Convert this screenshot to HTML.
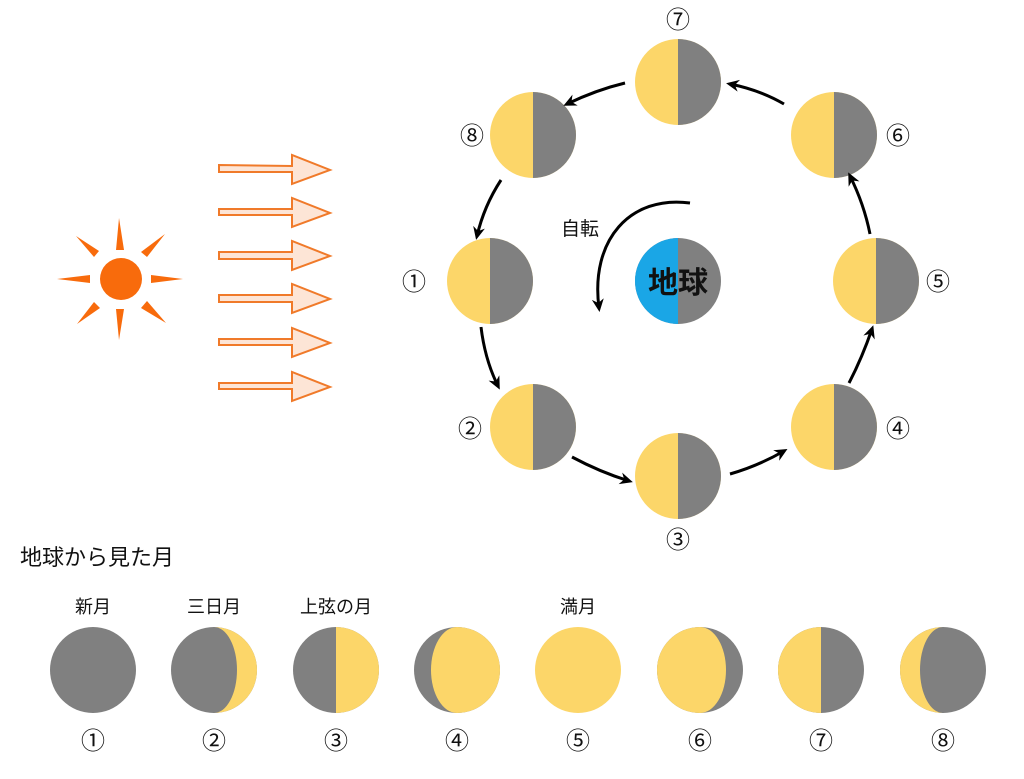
<!DOCTYPE html>
<html><head><meta charset="utf-8"><style>
html,body{margin:0;padding:0;background:#fff;}
svg{display:block}
text{font-family:"Liberation Sans","Noto Sans CJK JP",sans-serif;fill:#111}
</style></head><body>
<svg width="1024" height="779" viewBox="0 0 1024 779" xmlns="http://www.w3.org/2000/svg">
<defs>
<marker id="ah" markerWidth="14" markerHeight="14" refX="9" refY="7" orient="auto" markerUnits="userSpaceOnUse">
<path d="M0,1 L13,7 L0,13 L4,7 Z" fill="#000"/>
</marker>
</defs>
<g fill="#f86b0c">
<circle cx="121" cy="279" r="21"/>
<path d="M119,218 L116,250 L124,250 Z"/>
<path d="M119,340 L116,309 L124,309 Z"/>
<path d="M57,279 L90,275 L90,283 Z"/>
<path d="M183,279 L151,275 L151,283 Z"/>
<path d="M76,236 L99,251 L94,257 Z"/>
<path d="M165,234 L147,257 L141,252 Z"/>
<path d="M77,324 L94,302 L100,308 Z"/>
<path d="M166,323 L141,308 L147,301 Z"/>
</g>
<g fill="#fde5d6" stroke="#f07a2a" stroke-width="2">
<path d="M219,165 L292,166 L292,155 L330,170 L292,184 L292,172 L219,172 Z"/>
<path d="M219,209 L292,209 L292,198 L330,213 L292,227 L292,215 L219,215 Z"/>
<path d="M219,252 L292,252 L292,241 L330,256 L292,270 L292,259 L219,259 Z"/>
<path d="M219,295 L292,295 L292,284 L330,299 L292,313 L292,302 L219,302 Z"/>
<path d="M219,339 L292,339 L292,328 L330,343 L292,357 L292,345 L219,345 Z"/>
<path d="M219,383 L292,383 L292,372 L330,387 L292,401 L292,389 L219,389 Z"/>
</g>
<g fill="#fcd669">
<circle cx="678" cy="82" r="43"/><circle cx="533" cy="135" r="43"/><circle cx="834" cy="135" r="43"/>
<circle cx="490" cy="281" r="43"/><circle cx="876" cy="281" r="43"/><circle cx="533" cy="427" r="43"/>
<circle cx="834" cy="427" r="43"/><circle cx="678" cy="476" r="43"/>
</g>
<g fill="#808080">
<path d="M678,39 A43,43 0 0 1 678,125 Z"/><path d="M533,92 A43,43 0 0 1 533,178 Z"/><path d="M834,92 A43,43 0 0 1 834,178 Z"/>
<path d="M490,238 A43,43 0 0 1 490,324 Z"/><path d="M876,238 A43,43 0 0 1 876,324 Z"/><path d="M533,384 A43,43 0 0 1 533,470 Z"/>
<path d="M834,384 A43,43 0 0 1 834,470 Z"/><path d="M678,433 A43,43 0 0 1 678,519 Z"/>
</g>
<circle cx="678" cy="281" r="43" fill="#808080"/>
<path d="M678,238 A43,43 0 0 0 678,324 Z" fill="#1aa6e6"/>
<text x="678" y="293" font-size="30" font-weight="bold" text-anchor="middle">地球</text>
<text x="580" y="235" font-size="19" text-anchor="middle">自転</text>
<path d="M690,203 C630,195 590,240 599,308" fill="none" stroke="#000" stroke-width="3" marker-end="url(#ah)"/>
<g fill="none" stroke="#000" stroke-width="3" marker-end="url(#ah)">
<path d="M481,327 Q485,360 498,386"/>
<path d="M572,457 Q600,472 629,481"/>
<path d="M730,474 Q758,466 784,451"/>
<path d="M849,383 Q862,358 872,329"/>
<path d="M870,234 Q864,204 850,176"/>
<path d="M784,104 Q760,90 730,84"/>
<path d="M625,83 Q596,90 567,104"/>
<path d="M501,180 Q484,206 477,236"/>
</g>
<g font-size="24" text-anchor="middle">
<text x="678" y="28">⑦</text><text x="472" y="144">⑧</text><text x="898" y="144">⑥</text>
<text x="414" y="290">①</text><text x="938" y="290">⑤</text><text x="470" y="437">②</text>
<text x="898" y="437">④</text><text x="678" y="548">③</text>
</g>
<text x="20" y="565" font-size="22">地球から見た月</text>
<g font-size="18" text-anchor="middle">
<text x="93" y="613">新月</text><text x="214" y="613">三日月</text><text x="336" y="613">上弦の月</text><text x="578" y="613">満月</text>
</g>
<g fill="#808080">
<circle cx="93" cy="670" r="43"/><circle cx="214" cy="670" r="43"/><circle cx="336" cy="670" r="43"/><circle cx="457" cy="670" r="43"/>
<circle cx="700" cy="670" r="43"/><circle cx="821" cy="670" r="43"/><circle cx="943" cy="670" r="43"/>
</g>
<g fill="#fcd669">
<path d="M214,627 A43,43 0 0 1 214,713 A23,43 0 0 0 214,627 Z"/>
<path d="M336,627 A43,43 0 0 1 336,713 Z"/>
<path d="M457,627 A43,43 0 0 1 457,713 A26,43 0 0 1 457,627 Z"/>
<circle cx="578" cy="670" r="43"/>
<path d="M700,627 A43,43 0 0 0 700,713 A26,43 0 0 0 700,627 Z"/>
<path d="M821,627 A43,43 0 0 0 821,713 Z"/>
<path d="M943,627 A43,43 0 0 0 943,713 A23,43 0 0 1 943,627 Z"/>
</g>
<g font-size="24" text-anchor="middle">
<text x="93" y="749">①</text><text x="214" y="749">②</text><text x="336" y="749">③</text><text x="457" y="749">④</text>
<text x="578" y="749">⑤</text><text x="700" y="749">⑥</text><text x="821" y="749">⑦</text><text x="943" y="749">⑧</text>
</g>
</svg>
</body></html>
